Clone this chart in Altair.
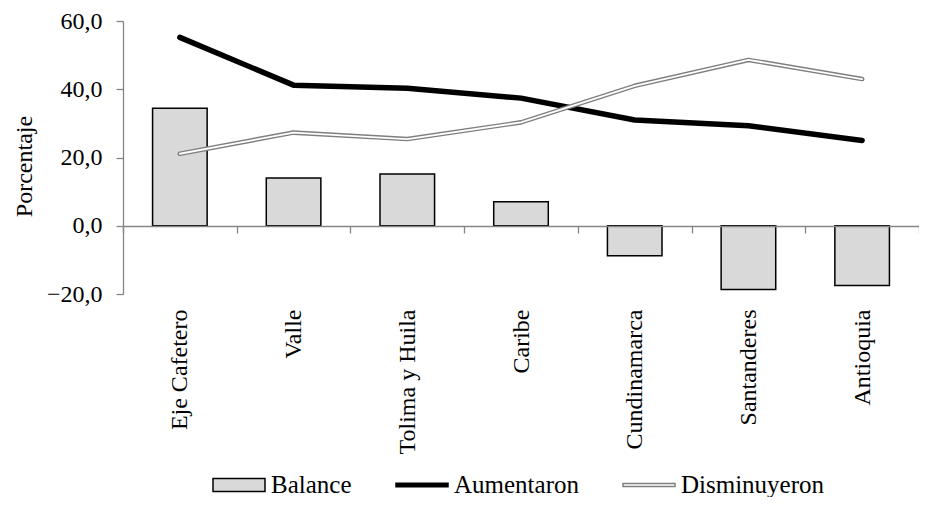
import altair as alt
import pandas as pd

regiones = ["Eje Cafetero", "Valle", "Tolima y Huila", "Caribe",
            "Cundinamarca", "Santanderes", "Antioquia"]
balance = [34.4, 14.0, 15.2, 7.0, -8.8, -18.7, -17.5]
aumentaron = [55.2, 41.2, 40.3, 37.4, 31.0, 29.3, 25.0]
disminuyeron = [21.1, 27.3, 25.4, 30.3, 41.0, 48.6, 43.0]
series = ["Balance", "Aumentaron", "Disminuyeron"]
y_ticks = [-20, 0, 20, 40, 60]

rows = []
for i, r in enumerate(regiones):
    rows.append({"region": r, "serie": "Balance", "valor": balance[i]})
    rows.append({"region": r, "serie": "Aumentaron", "valor": aumentaron[i]})
    rows.append({"region": r, "serie": "Disminuyeron", "valor": disminuyeron[i]})
df = pd.DataFrame(rows)

FONT = "Liberation Serif"
GRAY = "#868686"

x_enc = alt.X(
    "region:N", sort=regiones,
    scale=alt.Scale(paddingInner=0, paddingOuter=0),
    axis=alt.Axis(
        title=None, labelAngle=270, labelAlign="right", labelBaseline="middle",
        labelFont=FONT, labelFontSize=24, labelColor="black",
        labelPadding=76, tickSize=7, tickColor=GRAY, tickWidth=1.3,
        tickBand="extent", domainColor=GRAY, domainWidth=1.3,
        offset=-68, zindex=1,
    ),
)
y_enc = alt.Y(
    "valor:Q",
    scale=alt.Scale(domain=[-20, 60], nice=False),
    axis=alt.Axis(
        values=y_ticks, grid=False, title="Porcentaje",
        titleFont=FONT, titleFontSize=24, titleFontWeight="normal",
        titleColor="black", titleAngle=270, titleBaseline="middle",
        titleX=-99, titleY=145,
        labelFont=FONT, labelFontSize=24, labelColor="black", labelPadding=14,
        labelExpr="replace(format(datum.value, '.1f'), '.', ',')",
        tickSize=7, tickColor=GRAY, tickWidth=1.3,
        domainColor=GRAY, domainWidth=1.3,
    ),
)

legend = alt.Legend(
    title=None, orient="none", direction="horizontal",
    legendX=89, legendY=437, padding=0,
    labelFont=FONT, labelFontSize=25, labelColor="black",
    symbolSize=2704, symbolStrokeWidth=1.5, columnPadding=41, labelOffset=5,
)

shape_paths = ["M-1,-0.25H1V0.25H-1Z", "M-1,-0.07H1V0.07H-1Z", "M-1,-0.055H1V0.055H-1Z"]
fill_cols = ["#d9d9d9", "black", "white"]
stroke_cols = ["black", "black", "#7f7f7f"]

bars = alt.Chart(df).transform_filter(alt.datum.serie == "Balance").mark_bar(
    width=alt.RelativeBandSize(0.48), fill="#d9d9d9", stroke="black", strokeWidth=1.5,
).encode(x=x_enc, y=y_enc)

aum = alt.Chart(df).transform_filter(alt.datum.serie == "Aumentaron").mark_line(
    color="black", strokeWidth=5.5, strokeCap="round", strokeJoin="round",
).encode(x=x_enc, y=y_enc)

dis_out = alt.Chart(df).transform_filter(alt.datum.serie == "Disminuyeron").mark_line(
    color="#7f7f7f", strokeWidth=4.6, strokeCap="round", strokeJoin="round",
).encode(x=x_enc, y=y_enc)

dis_in = alt.Chart(df).transform_filter(alt.datum.serie == "Disminuyeron").mark_line(
    color="white", strokeWidth=1.8, strokeCap="round", strokeJoin="round",
).encode(x=x_enc, y=y_enc)

legend_layer = alt.Chart(df).transform_filter("false").mark_point(
    filled=True, strokeWidth=1.5, opacity=1,
).encode(
    x=x_enc, y=y_enc,
    shape=alt.Shape("serie:N", scale=alt.Scale(domain=series, range=shape_paths), legend=legend),
    fill=alt.Fill("serie:N", scale=alt.Scale(domain=series, range=fill_cols), legend=legend),
    stroke=alt.Stroke("serie:N", scale=alt.Scale(domain=series, range=stroke_cols), legend=legend),
)

chart = alt.layer(bars, aum, dis_out, dis_in, legend_layer).properties(
    width=796, height=273,
    autosize=alt.AutoSizeParams(type="none"),
    padding={"left": 115, "top": 13, "right": 0, "bottom": 203},
).configure(
    background="white", font=FONT,
).configure_view(stroke=None).configure_axis(
    labelFont=FONT, titleFont=FONT,
).configure_legend(labelFont=FONT)

chart.save("out.html", embed_options={"renderer": "svg", "actions": False})
